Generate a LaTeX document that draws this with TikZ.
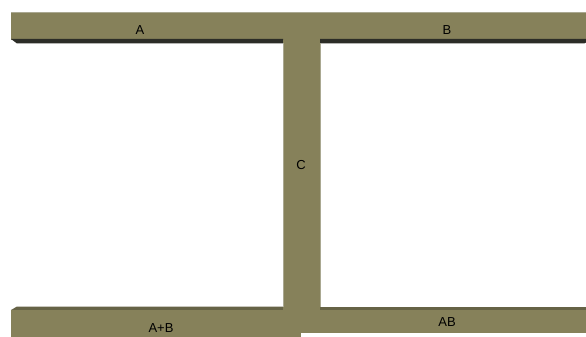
\documentclass[tikz,border=0pt]{standalone}
\usepackage{fontspec}
\setmainfont{Liberation Sans}
\definecolor{beam}{RGB}{134,129,90}
\definecolor{beamdark}{RGB}{44,45,39}
\definecolor{beamtop}{RGB}{102,99,70}
\definecolor{beamedge}{RGB}{170,168,145}

\begin{document}
\begin{tikzpicture}[x=1pt, y=-1pt, every node/.style={font=\fontsize{13}{15}\selectfont, text=black, inner sep=0pt}]
  \useasboundingbox[fill=white] (0,0) rectangle (586,337);
  % top beam with dark underside
  \fill[beam] (11,12) rectangle (586,40);
  \draw[beamedge, line width=0.6pt] (11,12.3) -- (586,12.3);
  \fill[beamdark] (11,39) -- (283,39) -- (283,43.5) -- (17,43.5) -- cycle;
  \fill[beamdark] (320,39) -- (586,39) -- (586,42.5) -- (584,43.5) -- (320,43.5) -- cycle;
  % bottom right beam
  \fill[beamtop] (270,307) -- (586,307) -- (586,310) -- (270,310) -- cycle;
  \fill[beam] (270,310) rectangle (586,333);
  % bottom left beam
  \fill[beamtop] (17,306.5) -- (283,306.5) -- (283,310) -- (11,310) -- cycle;
  \fill[beam] (11,310) rectangle (301,337);
  % column
  \fill[beam] (283,40) rectangle (320,310);
  \draw[beamedge, line width=0.5pt] (283,43.5) -- (283,306.5) (320,43.5) -- (320,307);
  % labels
  \node (a) at (140,30.5) {A};
  \node (b) at (447,30.5) {B};
  \node (c) at (301,165) {C};
  \node (apb) at (161,328) {A+B};
  \node (ab) at (447,322) {AB};
\end{tikzpicture}
\end{document}
